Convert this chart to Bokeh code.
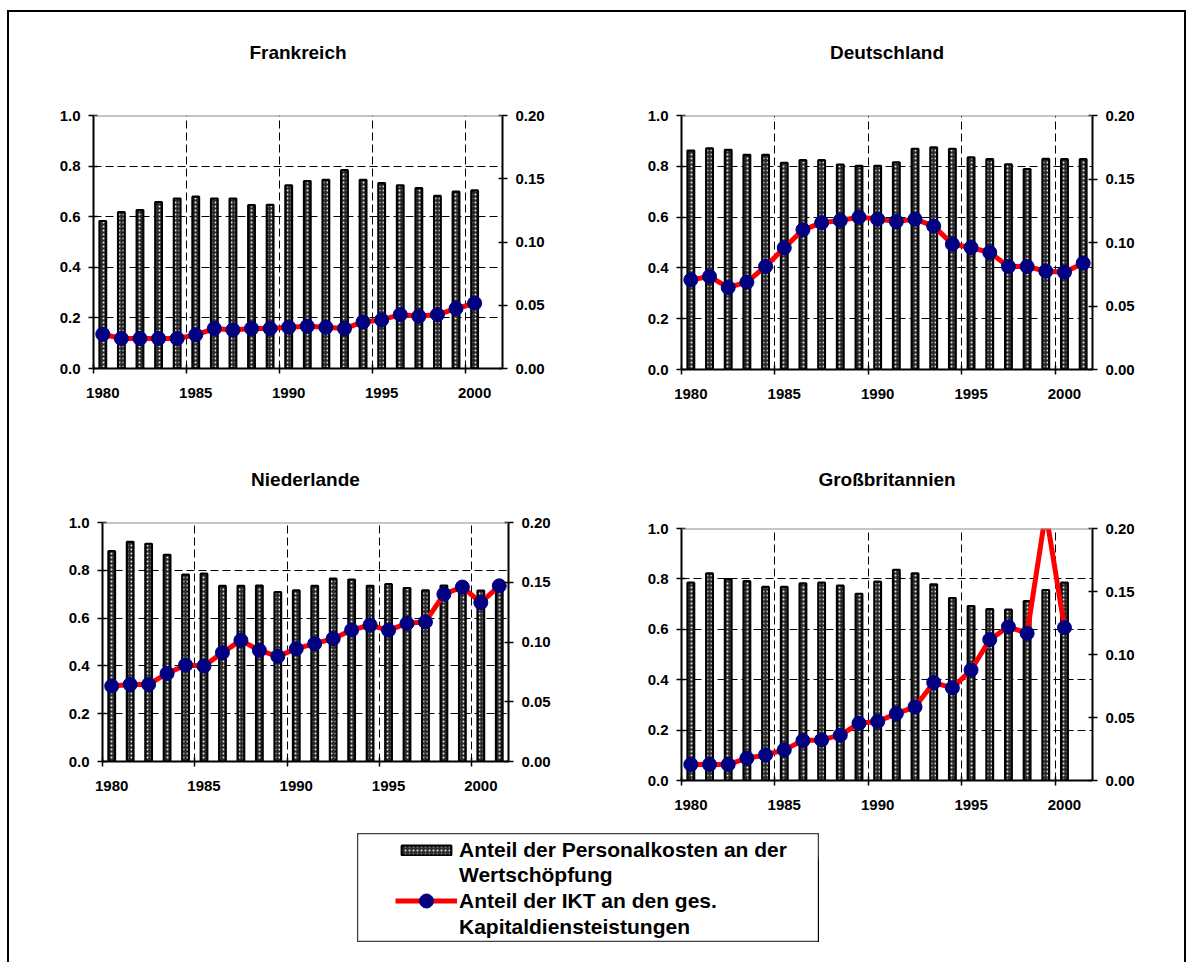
from bokeh.plotting import figure
from bokeh.models import (Range1d, LinearAxis, FixedTicker, Span, Legend,
                          LegendItem, Spacer, NumeralTickFormatter)
from bokeh.layouts import row, column
from bokeh.embed import file_html
from bokeh.resources import INLINE

# ---------------- data ----------------
years_21 = list(range(1980, 2001))
years_22 = list(range(1980, 2002))

fr_personal = [0.583, 0.618, 0.626, 0.658, 0.672, 0.679, 0.672, 0.672, 0.646, 0.647, 0.724,
               0.741, 0.746, 0.784, 0.746, 0.733, 0.724, 0.713, 0.682, 0.699, 0.704]
fr_ikt = [0.0271, 0.0237, 0.0237, 0.0237, 0.0237, 0.0266, 0.0316, 0.0305, 0.0316, 0.0316, 0.0326,
          0.0334, 0.0326, 0.0316, 0.0368, 0.0384, 0.0426, 0.0413, 0.0426, 0.0474, 0.0516]

de_personal = [0.862, 0.871, 0.865, 0.845, 0.845, 0.814, 0.824, 0.824, 0.807, 0.802, 0.802,
               0.816, 0.869, 0.875, 0.869, 0.835, 0.828, 0.808, 0.789, 0.829, 0.828, 0.828]
de_ikt = [0.0706, 0.0732, 0.0646, 0.0688, 0.0811, 0.0958, 0.1100, 0.1155, 0.1173, 0.1200, 0.1184,
          0.1165, 0.1184, 0.1129, 0.0987, 0.0960, 0.0921, 0.0811, 0.0811, 0.0774, 0.0766, 0.0837]

nl_personal = [0.880, 0.919, 0.911, 0.865, 0.782, 0.786, 0.735, 0.735, 0.736, 0.709, 0.716,
               0.735, 0.765, 0.761, 0.735, 0.742, 0.726, 0.716, 0.736, 0.735, 0.715, 0.740]
nl_ikt = [0.0631, 0.0645, 0.0645, 0.0737, 0.0807, 0.0799, 0.0911, 0.1014, 0.0930, 0.0880, 0.0944,
          0.0986, 0.1028, 0.1100, 0.1142, 0.1098, 0.1156, 0.1168, 0.1400, 0.1460, 0.1330, 0.1470]

gb_personal = [0.785, 0.822, 0.799, 0.791, 0.768, 0.768, 0.782, 0.785, 0.773, 0.741, 0.789,
               0.836, 0.822, 0.778, 0.724, 0.692, 0.680, 0.678, 0.712, 0.756, 0.785]
gb_ikt = [0.0127, 0.0127, 0.0127, 0.0177, 0.0203, 0.0243, 0.0317, 0.0322, 0.0360, 0.0454, 0.0468,
          0.0531, 0.0584, 0.0777, 0.0735, 0.0877, 0.1118, 0.1220, 0.1168, 0.2130, 0.1213]

x_tick_labels = ["1980", "1985", "1990", "1995", "2000"]
left_ticks = [0.0, 0.2, 0.4, 0.6, 0.8, 1.0]
right_ticks = [0.0, 0.05, 0.10, 0.15, 0.20]
legend_labels = ["Anteil der Personalkosten an der", "Wertschöpfung",
                 "Anteil der IKT an den ges.", "Kapitaldiensteistungen"]

FONT = "Liberation Sans"
X0, X1 = 1979.5, 2001.5
BAR_STYLE = dict(fill_color="#2c2c2c", line_color="black", line_width=2.2,
                 hatch_pattern="dot", hatch_color="#e6e6e6", hatch_scale=4, hatch_weight=1.5)


def style_axis(ax):
    ax.major_label_text_font = FONT
    ax.major_label_text_font_style = "bold"
    ax.major_label_text_font_size = "15px"
    ax.major_label_text_color = "black"
    ax.axis_line_color = "black"
    ax.axis_line_width = 2
    ax.major_tick_line_color = "black"
    ax.major_tick_line_width = 1.5
    ax.major_tick_in = 4
    ax.major_tick_out = 5
    ax.minor_tick_line_color = None
    ax.major_label_standoff = 8


def panel(title, years, personal, ikt, fw, fh, bl, br, bt, bb, title_gap):
    p = figure(frame_width=fw, frame_height=fh, min_border_left=bl, min_border_right=br,
               min_border_top=bt, min_border_bottom=bb,
               x_range=Range1d(X0, X1), y_range=Range1d(0, 1),
               x_axis_location=None, y_axis_location=None,
               output_backend="svg", toolbar_location=None)
    p.outline_line_color = None
    p.background_fill_color = "white"
    p.border_fill_color = "white"
    p.extra_y_ranges = {"r": Range1d(0, 0.2)}

    yl = LinearAxis(ticker=FixedTicker(ticks=left_ticks),
                    formatter=NumeralTickFormatter(format="0.0"))
    style_axis(yl)
    p.add_layout(yl, "left")

    yr = LinearAxis(y_range_name="r", ticker=FixedTicker(ticks=right_ticks),
                    formatter=NumeralTickFormatter(format="0.00"))
    style_axis(yr)
    p.add_layout(yr, "right")

    label_years = [int(t) for t in x_tick_labels]
    bounds = [y - 0.5 for y in label_years]
    xa = LinearAxis(ticker=FixedTicker(ticks=bounds),
                    major_label_overrides={b: "" for b in bounds})
    style_axis(xa)
    xa.major_label_text_font_size = "1px"
    xa.major_label_standoff = 0
    p.add_layout(xa, "below")

    xb = LinearAxis(ticker=FixedTicker(ticks=label_years),
                    major_label_overrides={y: s for y, s in zip(label_years, x_tick_labels)})
    style_axis(xb)
    xb.axis_line_color = None
    xb.major_tick_line_color = None
    xb.major_label_standoff = 9
    p.add_layout(xb, "below")

    # panel title: label of an otherwise empty axis above the frame
    ta = LinearAxis(ticker=FixedTicker(ticks=[]), axis_label=title,
                    axis_line_color=None, major_tick_line_color=None,
                    minor_tick_line_color=None, major_tick_in=0, major_tick_out=0,
                    minor_tick_in=0, minor_tick_out=0, major_label_standoff=0,
                    axis_label_standoff=title_gap, axis_label_text_font=FONT,
                    axis_label_text_font_style="bold", axis_label_text_font_size="19px",
                    axis_label_text_color="black")
    p.add_layout(ta, "above")

    p.xgrid.ticker = FixedTicker(ticks=bounds[1:])
    p.ygrid.ticker = FixedTicker(ticks=left_ticks[1:-1])
    for g in (p.xgrid, p.ygrid):
        g.grid_line_color = "black"
        g.grid_line_dash = "8 4"
        g.grid_line_width = 1

    p.add_layout(Span(location=1.0, dimension="width", line_color="#8c8c8c", line_width=2))

    p.vbar(x=years, top=personal, bottom=0, width=0.36, **BAR_STYLE)
    p.line(x=years, y=ikt, y_range_name="r", line_color="#ff0000", line_width=5)
    p.scatter(x=years, y=ikt, y_range_name="r", size=14, fill_color="#000080",
              line_color="#000080")
    return p


f1 = panel("Frankreich", years_21, fr_personal, fr_ikt, 409, 253, 84, 87, 103, 71, 53)
f2 = panel("Deutschland", years_22, de_personal, de_ikt, 411, 254, 92, 92, 103, 70, 53)
f3 = panel("Niederlande", years_22, nl_personal, nl_ikt, 406, 239, 93, 81, 83, 58, 33)
f4 = panel("Großbritannien", years_21, gb_personal, gb_ikt, 411, 252, 92, 92, 83, 39, 39)

# ---------------- legend ----------------
leg = figure(width=462, height=109, min_border=0, x_axis_location=None, y_axis_location=None,
             x_range=Range1d(0, 1), y_range=Range1d(0, 1),
             output_backend="svg", toolbar_location=None)
leg.grid.visible = False
leg.outline_line_color = "#404040"
leg.outline_line_width = 1.5
# legend swatches use the France series (lying outside this figure's visible range)
r_bar = leg.vbar(x=years_21, top=fr_personal, width=0.5, **BAR_STYLE)
r_line = leg.line(x=years_21, y=fr_ikt, line_color="#ff0000", line_width=5)
r_pt = leg.scatter(x=years_21, y=fr_ikt, size=14, fill_color="#000080", line_color="#000080")
r_blank = leg.line(x=years_21, y=fr_ikt, line_alpha=0)

LEG_STYLE = dict(border_line_color=None, background_fill_alpha=0, label_text_font=FONT,
                 label_text_font_style="bold", label_text_font_size="21px",
                 label_text_color="black", glyph_width=62, label_height=25, spacing=0,
                 padding=0, margin=0, label_standoff=2)
leg_a = Legend(items=[LegendItem(label=legend_labels[0], renderers=[r_bar]),
                      LegendItem(label=legend_labels[1], renderers=[r_blank])],
               location=(38, 55), glyph_height=12, **LEG_STYLE)
leg_b = Legend(items=[LegendItem(label=legend_labels[2], renderers=[r_line, r_pt])],
               location=(38, 24), glyph_height=35, **LEG_STYLE)
leg_c = Legend(items=[LegendItem(label=legend_labels[3], renderers=[r_blank])],
               location=(38, 3), glyph_height=12, **LEG_STYLE)
for lg in (leg_a, leg_b, leg_c):
    leg.add_layout(lg, "center")

# ---------------- layout with frame border ----------------
BLACK = {"background-color": "black"}
inner = column(
    Spacer(width=1175, height=2, styles=BLACK),
    row(column(f1), column(f2)),
    row(column(f3), column(Spacer(width=595, height=6), f4)),
    row(Spacer(width=348, height=123), column(Spacer(width=462, height=14), leg)),
    Spacer(width=1175, height=20),
)
H = 2 + 427 + 380 + 123 + 20
page = column(
    Spacer(width=1186, height=10),
    row(Spacer(width=7, height=H),
        Spacer(width=2, height=H, styles=BLACK), inner, Spacer(width=2, height=H, styles=BLACK)),
)

open("out.html", "w").write(file_html(page, INLINE))
